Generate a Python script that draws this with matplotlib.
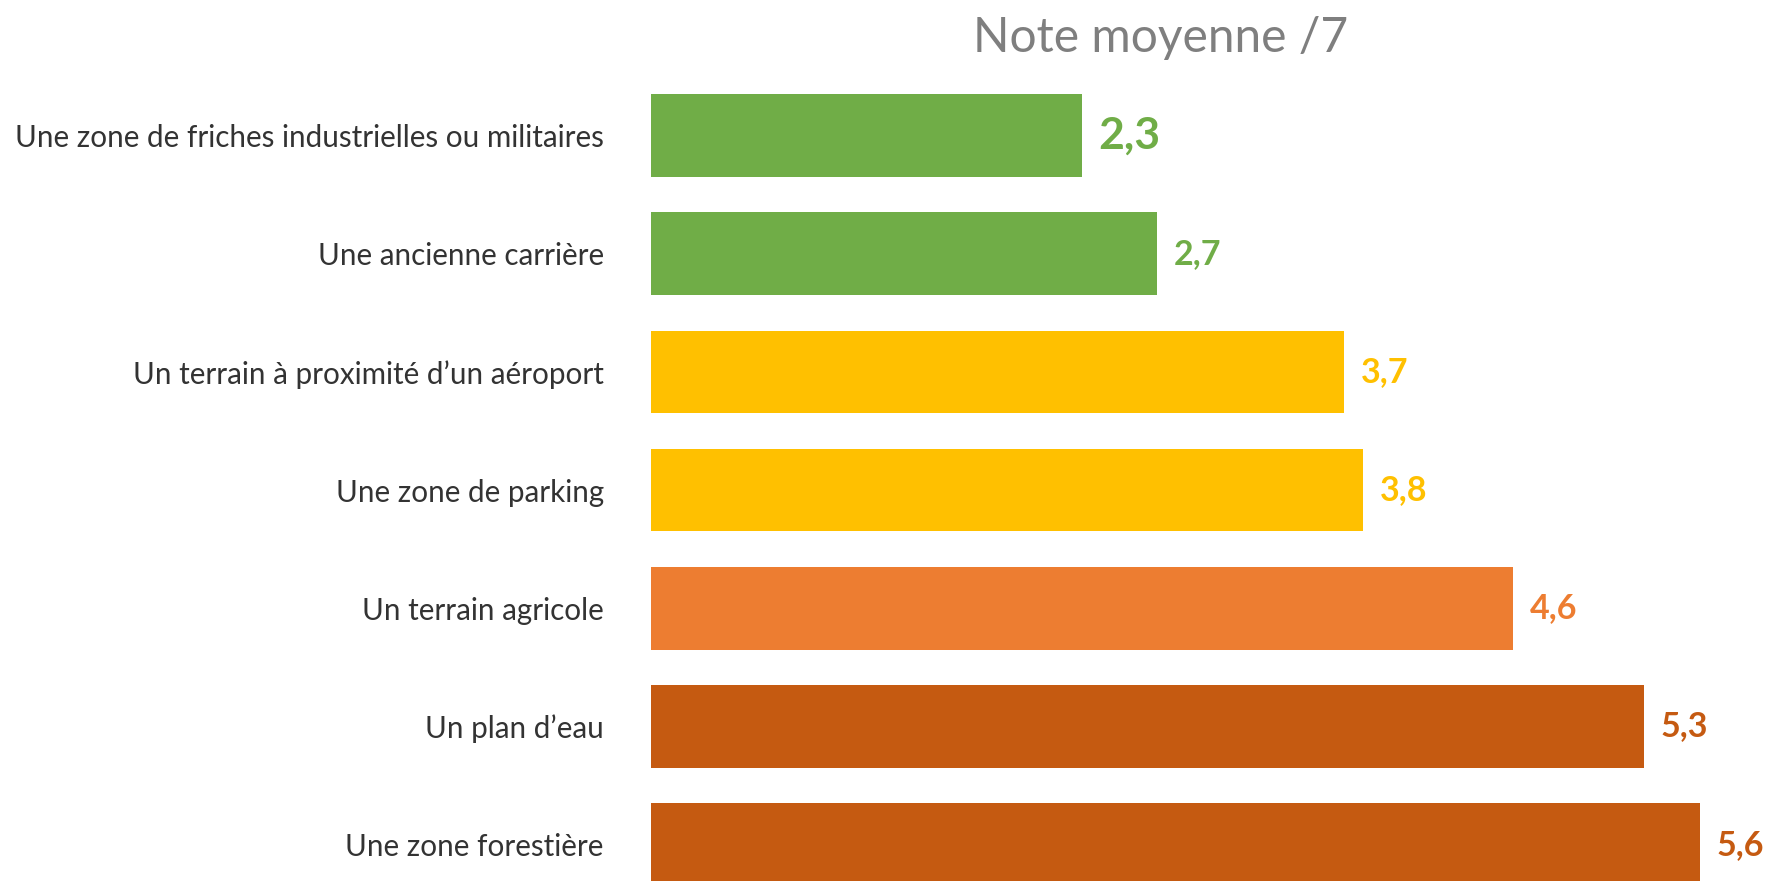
import matplotlib.pyplot as plt

categories = [
    "Une zone de friches industrielles ou militaires",
    "Une ancienne carrière",
    "Un terrain à proximité d\u2019un aéroport",
    "Une zone de parking",
    "Un terrain agricole",
    "Un plan d\u2019eau",
    "Une zone forestière",
]
scores = [2.3, 2.7, 3.7, 3.8, 4.6, 5.3, 5.6]
score_labels = ["2,3", "2,7", "3,7", "3,8", "4,6", "5,3", "5,6"]
bar_colors = ["#70AD47", "#70AD47", "#FFC000", "#FFC000", "#ED7D31", "#C55A11", "#C55A11"]

plt.rcParams['font.family'] = ['Lato', 'DejaVu Sans']

W, H = 1770, 881
fig = plt.figure(figsize=(W / 100, H / 100), dpi=100)

# axes placed in pixel terms: x=0 at 651 px, 187.3 px per unit; bars pitch 118.2 px
x0, px_unit = 651, 187.3
pitch = 118.2
top = 135.5 - 0.5 * pitch
bottom = top + 7 * pitch
xmax = 6.0
ax = fig.add_axes([x0 / W, 1 - bottom / H, xmax * px_unit / W, (bottom - top) / H])

y = list(range(len(categories)))
ax.barh(y, scores, height=0.70, color=bar_colors)
ax.set_xlim(0, xmax)
ax.set_ylim(len(categories) - 0.5, -0.5)

for i, (v, lab, c) in enumerate(zip(scores, score_labels, bar_colors)):
    size = 32 if i == 0 else 24.5
    ax.text(v + 0.09, i, lab, color=c, fontsize=size, fontweight='bold',
            va='center', ha='left', clip_on=False)

ax.set_yticks(y)
ax.set_yticklabels(categories, fontsize=21.3, color='#333333')
ax.tick_params(axis='y', length=0, pad=34)
ax.set_xticks([])
for s in ax.spines.values():
    s.set_visible(False)

fig.text(1161 / W, 1 - 38 / H, "Note moyenne /7", fontsize=34.5, color='#7F7F7F',
         ha='center', va='center')

fig.savefig("out.png", dpi=100)
